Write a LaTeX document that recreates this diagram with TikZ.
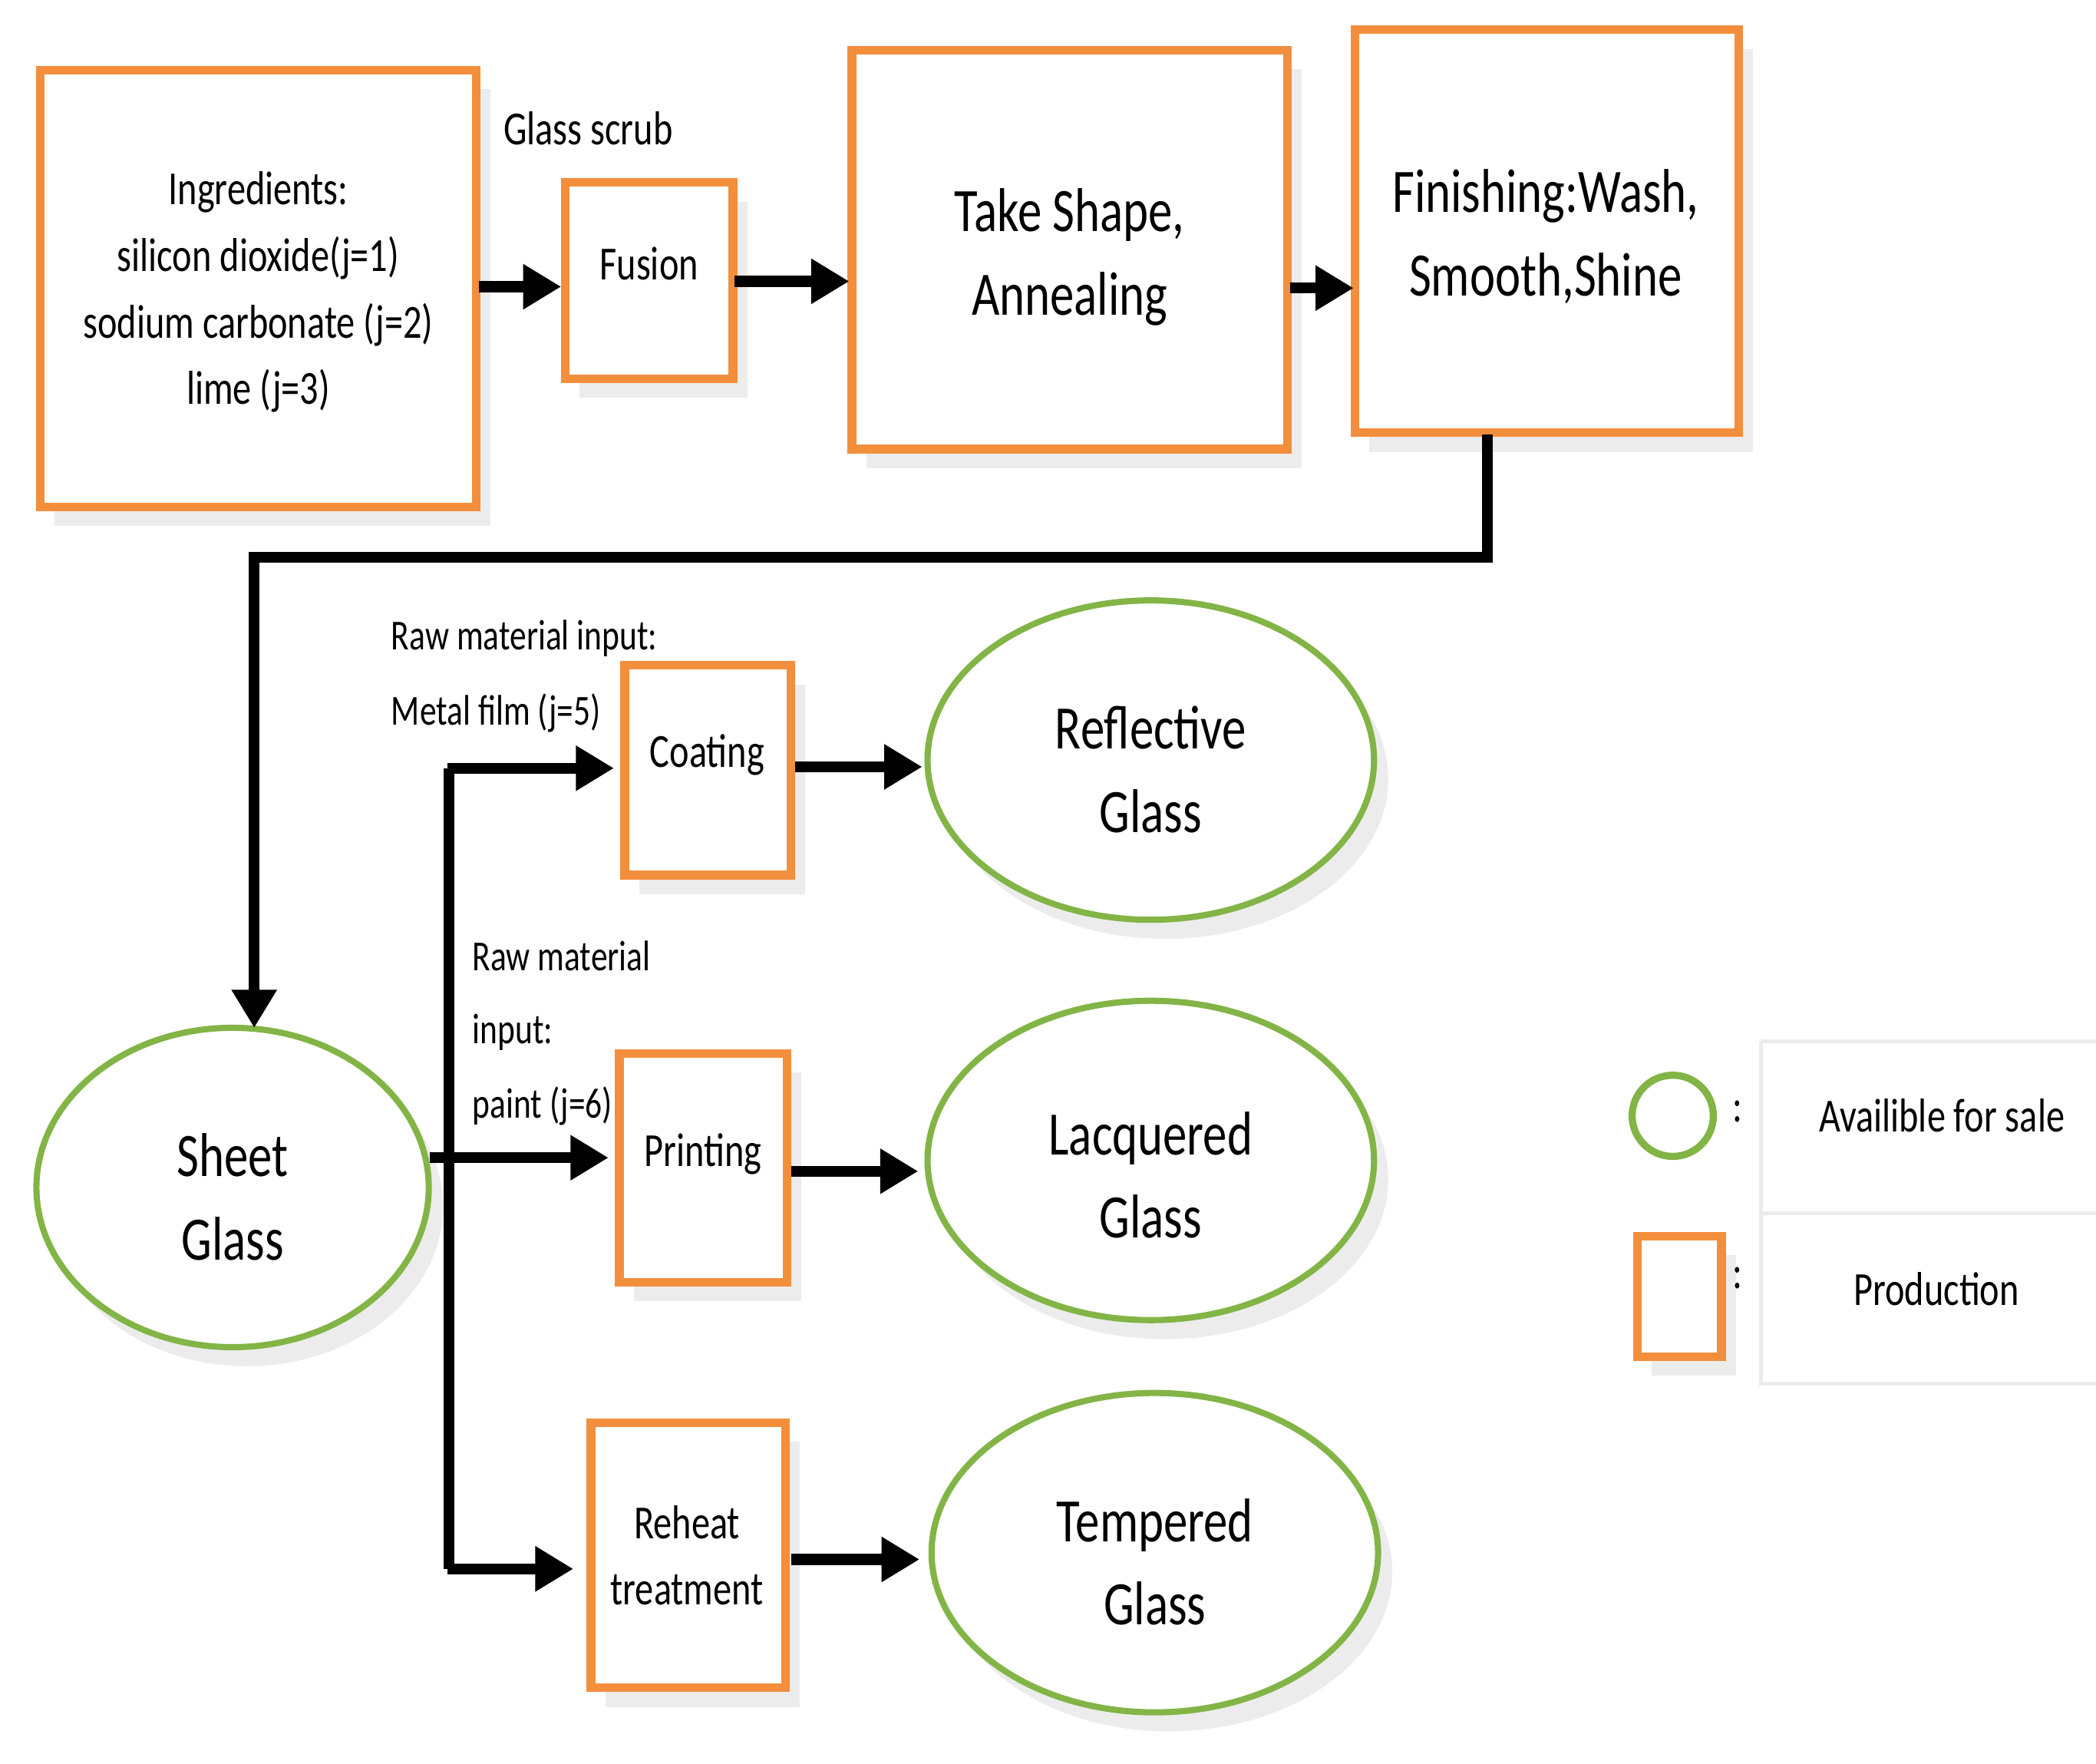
\documentclass[tikz,border=0pt]{standalone}
\usepackage{fontspec}
\setmainfont{Carlito}[FakeStretch=0.78]
\usetikzlibrary{shadows,arrows.meta,shapes.geometric}
\definecolor{org}{RGB}{243,142,60}
\definecolor{grn}{RGB}{130,180,70}
\begin{document}
\begin{tikzpicture}[x=0.01cm,y=-0.01cm,
 box/.style={draw=org,line width=1.8pt,fill=white,drop shadow={shadow xshift=3pt,shadow yshift=-4pt,opacity=0.15}},
 ell/.style={ellipse,draw=grn,line width=1.3pt,fill=white,drop shadow={shadow xshift=3pt,shadow yshift=-4pt,opacity=0.15}},
 arr/.style={line width=2.3pt,-{Triangle[length=8pt,width=9pt]}},
 big/.style={font=\fontsize{13}{17.5}\selectfont,align=center},
 mid/.style={font=\fontsize{10}{14}\selectfont,align=center},
 sml/.style={font=\fontsize{9}{15.5}\selectfont,align=left}]
\useasboundingbox (0,0) rectangle (1550,1304);
% top row
\draw[box] (30,52) rectangle (352,375);
\node[mid] (ing) at (191,216) {Ingredients:\\silicon dioxide(j=1)\\sodium carbonate (j=2)\\lime (j=3)};
\coordinate (ingR) at (354,212);
\node[mid] (gs) at (435,95) {Glass scrub};
\draw[box] (418,135) rectangle (542,280);
\node[mid] (fus) at (480,195) {Fusion};
\draw[box] (630,37) rectangle (952,332);
\node[big] (take) at (791,190) {Take Shape,\\Annealing};
\draw[box] (1002,22) rectangle (1286,320);
\node[big] (fin) at (1143,175) {Finishing:Wash,\\Smooth,Shine};
\coordinate (fusL) at (415,212); \coordinate (fusR) at (543,208);
\coordinate (takeL) at (628,208); \coordinate (takeR) at (954,213);
\coordinate (finL) at (1001,213); \coordinate (finB) at (1100,321);
\draw[arr] (ingR) -- (fusL);
\draw[arr] (fusR) -- (takeL);
\draw[arr] (takeR) -- (finL);
% sheet glass
\node[ell,minimum width=2.9cm,minimum height=2.36cm] (sheet) at (172,878) {};
\node[big] at (172,885) {Sheet\\Glass};
\draw[arr] (finB) |- (188,412) -- (188,760);
% process boxes
\draw[box] (462,492) rectangle (585,647);
\node[mid] (coat) at (523,558) {Coating};
\draw[box] (458,779) rectangle (582,948);
\node[mid] (print) at (520,853) {Printing};
\draw[box] (437,1052) rectangle (581,1248);
\node[mid] (reh) at (508,1150) {Reheat\\treatment};
% product ellipses
\node[ell,minimum width=3.3cm,minimum height=2.36cm] (refl) at (851,562) {};
\node[big] at (851,569) {Reflective\\Glass};
\node[ell,minimum width=3.3cm,minimum height=2.36cm] (lacq) at (851,858) {};
\node[big] at (851,869) {Lacquered\\Glass};
\node[ell,minimum width=3.3cm,minimum height=2.36cm] (temp) at (854,1148) {};
\node[big] at (854,1155) {Tempered\\Glass};
% branches
\coordinate (sR) at (318,856);
\draw[arr] (sR) -- (450,856);
\draw[line width=2.3pt] (332,1160) -- (332,568);
\draw[arr] (331,568) -- (454,568);
\draw[arr] (331,1160) -- (424,1160);
\draw[arr] (588,567) -- (682,567);
\draw[arr] (585,866) -- (679,866);
\draw[arr] (585,1153) -- (680,1153);
% labels
\node[sml,anchor=west] at (277,472) {Raw material input:};
\node[sml,anchor=west] at (277,527) {Metal film (j=5)};
\node[sml,anchor=west] at (337,707) {Raw material};
\node[sml,anchor=west] at (337,763) {input:};
\node[sml,anchor=west] at (337,818) {paint (j=6)};
% legend
\draw[black!8,line width=0.8pt] (1302,770) -- (1550,770) (1302,770) -- (1302,1023) -- (1550,1023) (1302,897) -- (1550,897);
\node[draw=grn,line width=1.5pt,circle,minimum size=0.6cm] (lc) at (1237,825) {};
\node[mid] at (1285,822) {:};
\node[mid] (l1) at (1436,825) {Availible for sale};
\draw[box] (1211,914) rectangle (1273,1003);
\node[mid] at (1285,945) {:};
\node[mid] (l2) at (1432,953) {Production};
\end{tikzpicture}
\end{document}
